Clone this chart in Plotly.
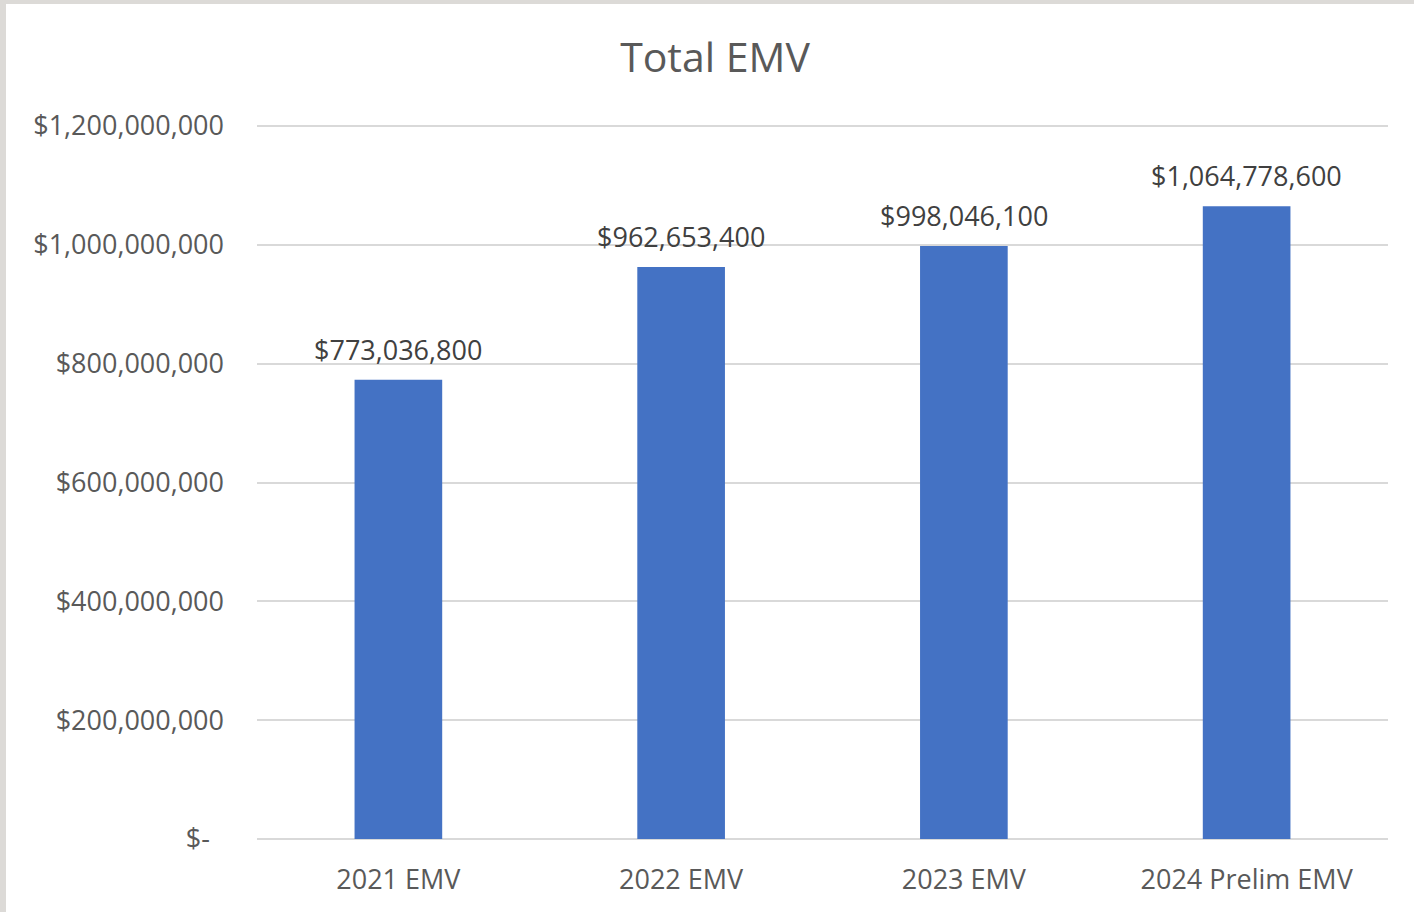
import plotly.graph_objects as go

categories = ["2021 EMV", "2022 EMV", "2023 EMV", "2024 Prelim EMV"]
values = [773036800, 962653400, 998046100, 1064778600]
tick_vals = [0, 200000000, 400000000, 600000000, 800000000, 1000000000, 1200000000]
tick_text = ["$-\u00a0\u00a0", "$200,000,000", "$400,000,000", "$600,000,000", "$800,000,000",
             "$1,000,000,000", "$1,200,000,000"]
labels = ["${:,}".format(v) for v in values]

FONT = "Open Sans"
W, H = 1414, 912
L, R, T, B = 257, 26, 126, 73
pw, ph = W - L - R, H - T - B

fig = go.Figure(go.Bar(
    x=categories, y=values, marker=dict(color="#4472C4", line=dict(width=0)),
    width=0.31, hoverinfo="x+y",
))

for c, v, lab in zip(categories, values, labels):
    fig.add_annotation(x=c, y=v, xref="x", yref="y", text=lab, showarrow=False,
                       yanchor="bottom", yshift=10,
                       font=dict(family=FONT, size=27, color="#404040"))

border = "#dcdad7"
grid = "#d9d9d9"
fig.update_layout(
    width=W, height=H,
    margin=dict(l=L, r=R, t=T, b=B),
    paper_bgcolor="white", plot_bgcolor="white",
    title=dict(text="Total EMV", x=715 / W, xanchor="center",
               y=1 - 58 / H, yanchor="middle",
               font=dict(family=FONT, size=41, color="#595959")),
    showlegend=False,
    xaxis=dict(showgrid=False, showline=False, ticks="", ticklabelstandoff=22,
               tickfont=dict(family=FONT, size=27, color="#595959")),
    yaxis=dict(range=[0, tick_vals[-1]], tickvals=tick_vals, ticktext=tick_text,
               showgrid=True, gridcolor=grid, gridwidth=2,
               zeroline=True, zerolinecolor=grid, zerolinewidth=2,
               showline=False, ticks="", ticklabelstandoff=32,
               tickfont=dict(family=FONT, size=27, color="#595959")),
    shapes=[
        # top gridline (at the axis maximum, which Plotly does not draw itself)
        dict(type="line", xref="paper", yref="paper", x0=0, x1=1, y0=1, y1=1,
             line=dict(color=grid, width=2), layer="below"),
        dict(type="rect", xref="paper", yref="paper",
             x0=(0 - L) / pw, x1=(6 - L) / pw, y0=(H - 912 - B) / ph, y1=1 + T / ph,
             fillcolor=border, line=dict(width=0), layer="above"),
        dict(type="rect", xref="paper", yref="paper",
             x0=(0 - L) / pw, x1=(W - L) / pw, y0=1 + (T - 4) / ph, y1=1 + T / ph,
             fillcolor=border, line=dict(width=0), layer="above"),
    ],
)

fig.write_html("out.html", config={"displayModeBar": False},
               post_script="document.body.style.margin='0';document.body.style.overflow='hidden';")
